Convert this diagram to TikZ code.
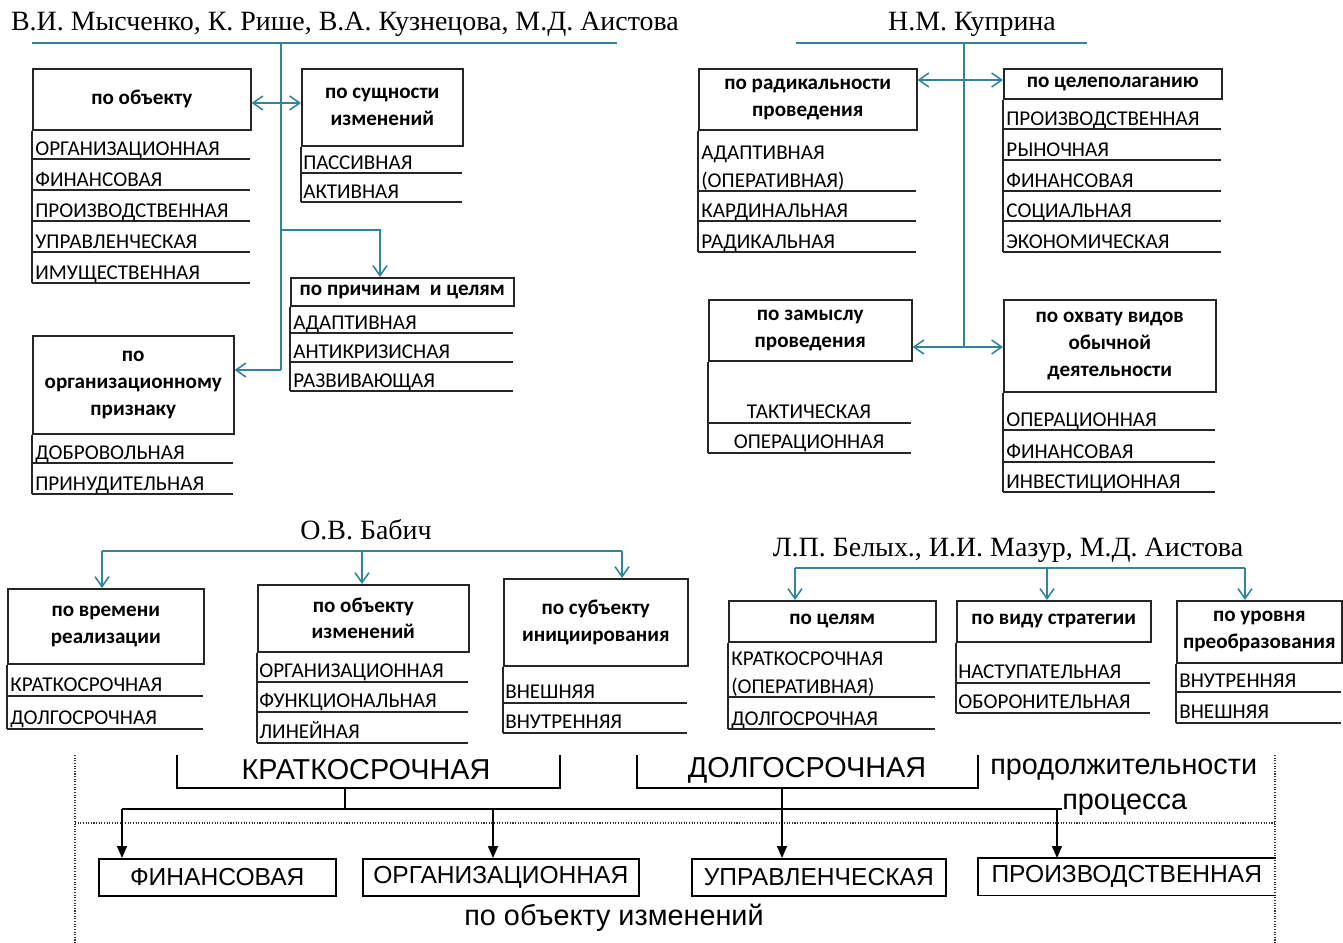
\documentclass[tikz,border=0pt]{standalone}
\usepackage{fontspec}
\setmainfont{Liberation Serif}
\newfontfamily\carl{Carlito}
\newfontfamily\lsans{Liberation Sans}
\usetikzlibrary{arrows.meta}
\definecolor{lineteal}{HTML}{31849B}

\tikzset{
  hdr/.style={draw=black!85, line width=0.9pt, inner sep=0pt, align=center, anchor=north west,
    font=\carl\bfseries\fontsize{12}{15.3}\selectfont},
  item/.style={anchor=base west, inner sep=0pt, font=\carl\fontsize{12}{15}\selectfont},
  rowline/.style={draw=black!85, line width=1pt},
  conn/.style={draw=lineteal, line width=0.9pt},
  author/.style={inner sep=0pt, font=\fontsize{15.9}{18}\selectfont},
  blk/.style={draw=black, line width=0.9pt},
  darr/.style={blk, -{Triangle[length=2.4mm,width=2mm]}},
  dots/.style={draw=black!80, line width=0.7pt, dash pattern=on 0.6pt off 0.9pt},
  lowbox/.style={inner sep=0pt, anchor=north west, minimum height=0.74cm,
    font=\lsans\fontsize{14}{16}\selectfont},
  lowtxt/.style={inner sep=0pt, font=\lsans\fontsize{16.4}{18}\selectfont},
}

\begin{document}
\begin{tikzpicture}[x=0.02cm, y=-0.02cm, >={Straight Barb[length=2mm,width=2.8mm]}]
    \useasboundingbox (0,0) rectangle (1343,943);

    % ---- first author group (top left)
    \node[author] (tA) at (345,24) {В.И. Мысченко, К. Рише, В.А. Кузнецова, М.Д. Аистова};
    \coordinate (la) at (32,43);
    \coordinate (lb) at (617,43);
    \coordinate (a0) at (281,43);
    \coordinate (a1) at (281,230);
    \coordinate (a2) at (281,370);

    \node[hdr, minimum width=4.36cm, minimum height=1.22cm] (obj) at (32,68) {по объекту};
    \foreach \y/\t [count=\i] in {159/ОРГАНИЗАЦИОННАЯ, 190/ФИНАНСОВАЯ, 221/ПРОИЗВОДСТВЕННАЯ, 252/УПРАВЛЕНЧЕСКАЯ, 283/ИМУЩЕСТВЕННАЯ}{
        \draw[rowline] (32,\y) -- (250,\y);
        \node[item] (obj\i) at (35,\y-4) {\t};
    }
    \draw[rowline] (obj.south west) -- (32,283);

    \node[hdr, minimum width=3.22cm, minimum height=1.54cm] (ess) at (301,68) {по сущности\\изменений};
    \foreach \y/\t [count=\i] in {173/ПАССИВНАЯ, 202/АКТИВНАЯ}{
        \draw[rowline] (301,\y) -- (462,\y);
        \node[item] (ess\i) at (303,\y-4) {\t};
    }
    \draw[rowline] (ess.south west) -- (301,202);

    \node[hdr, minimum width=4.46cm, minimum height=0.56cm] (prc) at (290,277) {по причинам\ \ и целям};
    \foreach \y/\t [count=\i] in {333/АДАПТИВНАЯ, 362/АНТИКРИЗИСНАЯ, 391/РАЗВИВАЮЩАЯ}{
        \draw[rowline] (290,\y) -- (513,\y);
        \node[item] (prc\i) at (293,\y-4) {\t};
    }
    \draw[rowline] (prc.south west) -- (290,391);

    \node[hdr, minimum width=4.02cm, minimum height=1.96cm] (org) at (32,335) {по\\организационному\\признаку};
    \foreach \y/\t [count=\i] in {463/ДОБРОВОЛЬНАЯ, 494/ПРИНУДИТЕЛЬНАЯ}{
        \draw[rowline] (32,\y) -- (233,\y);
        \node[item] (org\i) at (35,\y-4) {\t};
    }
    \draw[rowline] (org.south west) -- (32,494);

    \draw[conn] (la) -- (lb);
    \draw[conn] (a0) -- (a2);
    \draw[conn,<->] (obj.east |- 0,103) -- (ess.west |- 0,103);
    \draw[conn,->] (a1) -| (prc.north -| 380,0);
    \draw[conn,->] (a2) -- (org.east |- a2);

    % ---- second author group (top right)
    \node[author] (tB) at (972,24) {Н.М. Куприна};
    \coordinate (lc) at (796,43);
    \coordinate (ld) at (1087,43);
    \coordinate (b0) at (964,43);
    \coordinate (b1) at (964,347);

    \node[hdr, minimum width=4.36cm, minimum height=1.22cm] (rad) at (698,68) {по радикальности\\проведения};
    \node[item] (rad0) at (701,159) {АДАПТИВНАЯ};
    \foreach \y/\t [count=\i] in {191/(ОПЕРАТИВНАЯ), 221/КАРДИНАЛЬНАЯ, 252/РАДИКАЛЬНАЯ}{
        \draw[rowline] (698,\y) -- (916,\y);
        \node[item] (rad\i) at (701,\y-4) {\t};
    }
    \draw[rowline] (rad.south west) -- (698,252);

    \node[hdr, minimum width=4.36cm, minimum height=0.6cm] (goal) at (1003,68) {по целеполаганию};
    \foreach \y/\t [count=\i] in {129/ПРОИЗВОДСТВЕННАЯ, 160/РЫНОЧНАЯ, 191/ФИНАНСОВАЯ, 221/СОЦИАЛЬНАЯ, 252/ЭКОНОМИЧЕСКАЯ}{
        \draw[rowline] (1003,\y) -- (1221,\y);
        \node[item] (goal\i) at (1006,\y-4) {\t};
    }
    \draw[rowline] (goal.south west) -- (1003,252);

    \node[hdr, minimum width=4.06cm, minimum height=1.22cm] (plan) at (708,299) {по замыслу\\проведения};
    \foreach \y/\t [count=\i] in {423/ТАКТИЧЕСКАЯ, 453/ОПЕРАЦИОННАЯ}{
        \draw[rowline] (708,\y) -- (911,\y);
        \node[item, anchor=base] (plan\i) at (809,\y-5) {\t};
    }
    \draw[rowline] (plan.south west) -- (708,453);

    \node[hdr, minimum width=4.24cm, minimum height=1.84cm] (cov) at (1003,299) {по охвату видов\\обычной\\деятельности};
    \foreach \y/\t [count=\i] in {430/ОПЕРАЦИОННАЯ, 462/ФИНАНСОВАЯ, 492/ИНВЕСТИЦИОННАЯ}{
        \draw[rowline] (1003,\y) -- (1215,\y);
        \node[item] (cov\i) at (1006,\y-4) {\t};
    }
    \draw[rowline] (cov.south west) -- (1003,492);

    \draw[conn] (lc) -- (ld);
    \draw[conn] (b0) -- (b1);
    \draw[conn,<->] (rad.east |- 0,80) -- (goal.west |- 0,80);
    \draw[conn,<->] (plan.east |- b1) -- (cov.west |- b1);

    % ---- third author group (bottom left)
    \node[author] (tC) at (366,530) {О.В. Бабич};
    \coordinate (c1) at (102,551);
    \coordinate (c2) at (362,551);
    \coordinate (c3) at (622,551);

    \node[hdr, minimum width=3.92cm, minimum height=1.5cm] (time) at (7,588) {по времени\\реализации};
    \foreach \y/\t [count=\i] in {696/КРАТКОСРОЧНАЯ, 729/ДОЛГОСРОЧНАЯ}{
        \draw[rowline] (7,\y) -- (203,\y);
        \node[item] (time\i) at (10,\y-5) {\t};
    }
    \draw[rowline] (time.south west) -- (7,729);

    \node[hdr, minimum width=4.22cm, minimum height=1.34cm] (objc) at (257,584) {по объекту\\изменений};
    \foreach \y/\t [count=\i] in {682/ОРГАНИЗАЦИОННАЯ, 712/ФУНКЦИОНАЛЬНАЯ, 743/ЛИНЕЙНАЯ}{
        \draw[rowline] (257,\y) -- (468,\y);
        \node[item] (objc\i) at (259,\y-5) {\t};
    }
    \draw[rowline] (objc.south west) -- (257,743);

    \node[hdr, minimum width=3.68cm, minimum height=1.74cm] (subj) at (503,578) {по субъекту\\инициирования};
    \foreach \y/\t [count=\i] in {703/ВНЕШНЯЯ, 733/ВНУТРЕННЯЯ}{
        \draw[rowline] (503,\y) -- (687,\y);
        \node[item] (subj\i) at (505,\y-5) {\t};
    }
    \draw[rowline] (subj.south west) -- (503,733);

    \draw[conn] (c1) -- (c3);
    \draw[conn,->] (c1) -- (time.north -| c1);
    \draw[conn,->] (c2) -- (objc.north -| c2);
    \draw[conn,->] (c3) -- (subj.north -| c3);

    % ---- fourth author group (bottom right)
    \node[author] (tD) at (1008,550) {Л.П. Белых., И.И. Мазур, М.Д. Аистова};
    \coordinate (d1) at (795,568);
    \coordinate (d2) at (1047,568);
    \coordinate (d3) at (1245,568);

    \node[hdr, minimum width=4.14cm, minimum height=0.82cm] (aims) at (728,600) {по целям};
    \node[item] (aims0) at (731,665) {КРАТКОСРОЧНАЯ};
    \foreach \y/\t [count=\i] in {697/(ОПЕРАТИВНАЯ), 729/ДОЛГОСРОЧНАЯ}{
        \draw[rowline] (728,\y) -- (935,\y);
        \node[item] (aims\i) at (731,\y-4) {\t};
    }
    \draw[rowline] (aims.south west) -- (728,729);

    \node[hdr, minimum width=3.88cm, minimum height=0.82cm] (strat) at (956,600) {по виду стратегии};
    \foreach \y/\t [count=\i] in {683/НАСТУПАТЕЛЬНАЯ, 713/ОБОРОНИТЕЛЬНАЯ}{
        \draw[rowline] (956,\y) -- (1150,\y);
        \node[item] (strat\i) at (958,\y-5) {\t};
    }
    \draw[rowline] (strat.south west) -- (956,713);

    \node[hdr, minimum width=3.3cm, minimum height=1.24cm] (lvl) at (1176,600) {по уровня\\преобразования};
    \foreach \y/\t [count=\i] in {692/ВНУТРЕННЯЯ, 723/ВНЕШНЯЯ}{
        \draw[rowline] (1176,\y) -- (1341,\y);
        \node[item] (lvl\i) at (1179,\y-5) {\t};
    }
    \draw[rowline] (lvl.south west) -- (1176,723);

    \draw[conn] (d1) -- (d3);
    \draw[conn,->] (d1) -- (aims.north -| d1);
    \draw[conn,->] (d2) -- (strat.north -| d2);
    \draw[conn,->] (d3) -- (lvl.north -| d3);

    % ---- duration / object scheme (bottom strip)
    \draw[dots] (75,755) -- (75,943);
    \draw[dots] (1275,755) -- (1275,943);
    \draw[dots] (75,823) -- (1275,823);

    \node[lowtxt] (shrt) at (366,770) {КРАТКОСРОЧНАЯ};
    \node[lowtxt] (lng) at (807,770) {ДОЛГОСРОЧНАЯ};
    \node[lowtxt, anchor=west] (dur) at (990,770) {продолжительности};
    \node[lowtxt, anchor=west] (proc) at (1062,805) {процесса};
    \node[lowtxt] (objlab) at (614,918) {по объекту изменений};

    \draw[blk] (177,755) |- (560,788) -- (560,755);
    \draw[blk] (637,755) |- (978,788) -- (978,755);

    \node[lowbox, draw, line width=0.9pt, minimum width=4.74cm] (fin) at (98,858) {ФИНАНСОВАЯ};
    \node[lowbox, draw, line width=0.9pt, minimum width=5.52cm] (orgl) at (362,858) {ОРГАНИЗАЦИОННАЯ};
    \node[lowbox, draw, line width=0.9pt, minimum width=5.08cm] (mgmt) at (691,858) {УПРАВЛЕНЧЕСКАЯ};
    \node[lowbox, minimum width=5.94cm] (prod) at (978,858) {ПРОИЗВОДСТВЕННАЯ};
    \draw[blk] (prod.north east) -- (prod.north west) -- (prod.south west) -- (prod.south east);

    \draw[blk] (345,788) -- (345,809);
    \draw[blk] (122,809) -- (proc.west |- 0,809);
    \draw[darr] (122,809) -- (fin.north -| 122,0);
    \draw[darr] (493,809) -- (orgl.north -| 493,0);
    \draw[darr] (782,788) -- (mgmt.north -| 782,0);
    \draw[darr] (1057,809) -- (prod.north -| 1057,0);
\end{tikzpicture}
\end{document}
